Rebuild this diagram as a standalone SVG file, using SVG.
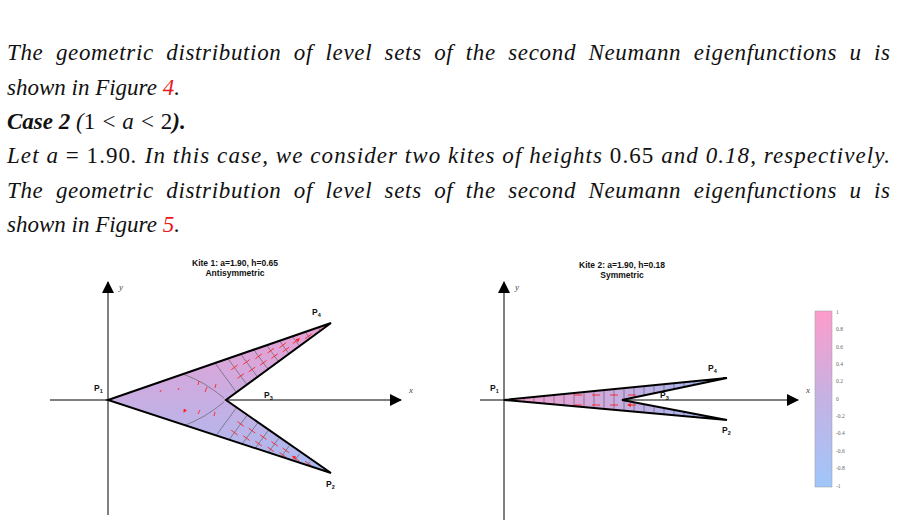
<svg xmlns="http://www.w3.org/2000/svg" width="897" height="524" viewBox="0 0 897 524">
<style>
.p{font-family:"Liberation Serif",serif;font-style:italic;font-size:23px;fill:#111}
.r{fill:#e8191c}
.t{font-family:"Liberation Sans",Arial,sans-serif;font-weight:bold;font-size:8.5px;text-anchor:middle;fill:#111}
.lab{font-family:"Liberation Sans",Arial,sans-serif;font-weight:bold;font-size:8.5px;fill:#111}
.sub{font-size:5.5px}
.ax{stroke:#000;stroke-width:1}
.ax-l{font-family:"Liberation Serif",serif;font-style:italic;font-size:9px;fill:#444}
.lv{stroke:#555;stroke-width:0.6;fill:none}
.ar{stroke:#ff2020;stroke-width:0.9;marker-end:url(#ah)}
.kite{stroke:#000;stroke-width:2;stroke-linejoin:miter}
.cb{font-family:"Liberation Serif",serif;font-size:5.5px;fill:#666}
</style>
<defs>
<linearGradient id="g1" x1="0" y1="323" x2="0" y2="473" gradientUnits="userSpaceOnUse"><stop offset="0" stop-color="#ea9fd2"/><stop offset="1" stop-color="#a7bcf2"/></linearGradient>
<linearGradient id="g2" x1="504" y1="0" x2="727" y2="0" gradientUnits="userSpaceOnUse"><stop offset="0" stop-color="#f59ccc"/><stop offset="1" stop-color="#9ebcf3"/></linearGradient>
<linearGradient id="gc" x1="0" y1="311" x2="0" y2="487" gradientUnits="userSpaceOnUse"><stop offset="0" stop-color="#fd9ccb"/><stop offset="0.5" stop-color="#c5b2e4"/><stop offset="1" stop-color="#9fc6fb"/></linearGradient>
<clipPath id="c1"><polygon points="108,400 331,323 226,400 331,473"/></clipPath>
<clipPath id="c2"><polygon points="504,400 727,378 622,400 727,420"/></clipPath>
<marker id="ah" markerWidth="4" markerHeight="4" refX="3" refY="2" orient="auto" markerUnits="userSpaceOnUse"><path d="M0,0L4,2L0,4z" fill="#ff2020"/></marker>
<marker id="axh" markerWidth="12" markerHeight="12" refX="11" refY="6" orient="auto" markerUnits="userSpaceOnUse"><path d="M0,0L12,6L0,12z" fill="#000"/></marker>
</defs>

<g id="text">
<text class="p" x="7" y="60" textLength="883" lengthAdjust="spacing" word-spacing="6">The geometric distribution of level sets of the second Neumann eigenfunctions u is</text>
<text class="p" x="7" y="95">shown in Figure <tspan class="r">4</tspan>.</text>
<text class="p" x="7" y="129"><tspan font-weight="bold">Case 2</tspan> (<tspan font-style="normal">1</tspan> &lt; a &lt; <tspan font-style="normal">2</tspan><tspan font-weight="bold">).</tspan></text>
<text class="p" x="7" y="163" textLength="883" lengthAdjust="spacing">Let a <tspan font-style="normal">= 1.90</tspan>. In this case, we consider two kites of heights <tspan font-style="normal">0.65</tspan> and 0.18, respectively.</text>
<text class="p" x="7" y="198" textLength="883" lengthAdjust="spacing" word-spacing="6">The geometric distribution of level sets of the second Neumann eigenfunctions u is</text>
<text class="p" x="7" y="232">shown in Figure <tspan class="r">5</tspan>.</text>
</g>

<g id="kite1">
<text class="t" x="235" y="266">Kite 1: a=1.90, h=0.65</text>
<text class="t" x="235" y="276">Antisymmetric</text>
<line class="ax" x1="108" y1="515" x2="108" y2="282" marker-end="url(#axh)"/>
<line class="ax" x1="50" y1="400" x2="401" y2="400" marker-end="url(#axh)"/>
<text class="ax-l" x="119" y="290">y</text>
<text class="ax-l" x="409" y="393">x</text>
<polygon points="108,400 331,323 226,400 331,473" fill="url(#g1)"/>
<g clip-path="url(#c1)">
<path class="lv" d="M236.5,392.3L215,363M247,384.6L227.9,358.6M257.5,376.9L240.8,354.2M268,369.2L253.7,349.7M278.5,361.5L266.6,345.2M289,353.8L279.5,340.8M299.5,346.1L292.3,336.3M310,338.4L305.2,331.9M320.5,330.7L318.1,327.5"/>
<path class="lv" d="M236.5,407.7L215,437M247,415.4L227.9,441.4M257.5,423.1L240.8,445.8M268,430.8L253.7,450.3M278.5,438.5L266.6,454.8M289,446.2L279.5,459.2M299.5,453.9L292.3,463.7M310,461.6L305.2,468.1M320.5,469.3L318.1,472.5"/>
<path class="lv" d="M183,374Q205,382 224,398M183,426Q205,418 224,402"/>
</g>
<g>
<path class="ar" d="M237.5,378.4l6.4,-4.7M231.2,369.8l6.4,-4.7M260.1,365.2l6.4,-4.7M255.4,358.7l6.4,-4.7M282.7,351.9l6.4,-4.7M279.5,347.6l6.4,-4.7M305.2,338.7l6.4,-4.7M248.8,371.8l6.4,-4.7M243.3,364.3l6.4,-4.7M271.4,358.5l6.4,-4.7M267.4,353.1l6.4,-4.7M292.8,343.6l6.4,-4.7"/>
<path class="ar" d="M243.9,426.3l-6.4,-4.7M237.6,434.9l-6.4,-4.7M266.5,439.5l-6.4,-4.7M261.8,446l-6.4,-4.7M289.1,452.8l-6.4,-4.7M285.9,457.1l-6.4,-4.7M311.6,466l-6.4,-4.7M255.2,433l-6.4,-4.7M249.7,440.5l-6.4,-4.7M277.8,446.2l-6.4,-4.7M273.8,451.6l-6.4,-4.7M299.2,461.1l-6.4,-4.7"/>
<path class="ar" d="M205,392l2,-5M198,385l1,-4M215,388l1,-4M178,390l1,-2M160,392l1,-2M200,410l-2,4M215,412l-1,4M185,410l-1,2"/>
</g>
<polygon class="kite" points="108,400 331,323 226,400 331,473" fill="none"/>
<text class="lab" x="94" y="391">P<tspan class="sub" dy="2">1</tspan></text>
<text class="lab" x="264" y="398">P<tspan class="sub" dy="2">3</tspan></text>
<text class="lab" x="312" y="315">P<tspan class="sub" dy="2">4</tspan></text>
<text class="lab" x="326" y="487">P<tspan class="sub" dy="2">2</tspan></text>
</g>

<g id="kite2">
<text class="t" x="622" y="268">Kite 2: a=1.90, h=0.18</text>
<text class="t" x="622" y="278">Symmetric</text>
<line class="ax" x1="504" y1="520" x2="504" y2="282" marker-end="url(#axh)"/>
<line class="ax" x1="480" y1="400" x2="798" y2="400" marker-end="url(#axh)"/>
<text class="ax-l" x="515" y="290">y</text>
<text class="ax-l" x="806" y="393">x</text>
<polygon points="504,400 727,378 622,400 727,420" fill="url(#g2)"/>
<g clip-path="url(#c2)" class="lv">
<path d="M514,370V430M524,370V430M534,370V430M544,370V430M554,370V430M564,370V430M574,370V430M584,370V430M594,370V430M604,370V430M614,370V430M624,370V430M634,370V430M644,370V430M654,370V430M664,370V430M674,370V430M684,370V430M694,370V430M704,370V430M714,370V430"/>
</g>
<path class="ar" d="M582,395h-8M600,395h-8M618,395h-8M636,395h-8M582,405h-8M600,405h-8M618,405h-8M636,405h-8"/>
<polygon class="kite" points="504,400 727,378 622,400 727,420" fill="none"/>
<text class="lab" x="490" y="391">P<tspan class="sub" dy="2">1</tspan></text>
<text class="lab" x="660" y="398">P<tspan class="sub" dy="2">3</tspan></text>
<text class="lab" x="708" y="371">P<tspan class="sub" dy="2">4</tspan></text>
<text class="lab" x="722" y="433">P<tspan class="sub" dy="2">2</tspan></text>
</g>

<g id="colorbar">
<rect x="815" y="311" width="17" height="176" fill="url(#gc)" stroke="#999" stroke-width="0.5"/>
<text class="cb" x="836" y="314">1</text>
<text class="cb" x="836" y="331">0.8</text>
<text class="cb" x="836" y="349">0.6</text>
<text class="cb" x="836" y="366">0.4</text>
<text class="cb" x="836" y="383">0.2</text>
<text class="cb" x="836" y="401">0</text>
<text class="cb" x="836" y="418">-0.2</text>
<text class="cb" x="836" y="435">-0.4</text>
<text class="cb" x="836" y="453">-0.6</text>
<text class="cb" x="836" y="470">-0.8</text>
<text class="cb" x="836" y="488">-1</text>
</g>
</svg>
